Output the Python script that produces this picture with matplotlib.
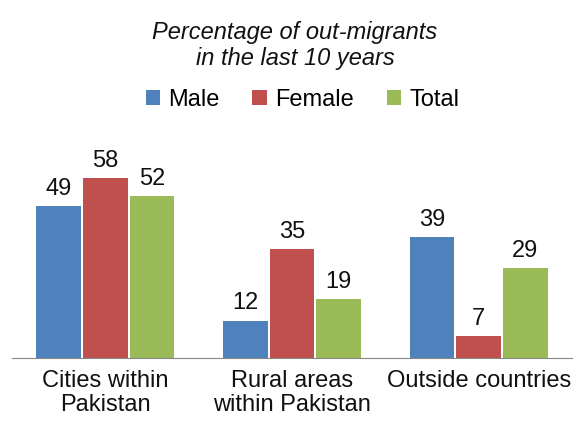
import matplotlib
matplotlib.use("Agg")
import matplotlib.pyplot as plt
import numpy as np

categories = ["Cities within\nPakistan", "Rural areas\nwithin Pakistan", "Outside countries"]
male = [49, 12, 39]
female = [58, 35, 7]
total = [52, 19, 29]

series = [("Male", male, "#4F81BD"), ("Female", female, "#C0504D"), ("Total", total, "#9BBB59")]

plt.rcParams['font.family'] = ['Liberation Sans', 'DejaVu Sans']

fig = plt.figure(figsize=(5.76, 4.26), dpi=100)
ax = fig.add_axes([0.021, 0.16, 0.972, 0.51])

x = np.arange(len(categories))
w = 0.25
for i, (name, vals, col) in enumerate(series):
    pos = x + (i - 1) * w
    bars = ax.bar(pos, vals, width=w * 0.96, color=col, label=name)
    for b, v in zip(bars, vals):
        ax.text(b.get_x() + b.get_width() / 2, v + 2, str(v), ha='center', va='bottom',
                fontsize=17, color='#111111')

ax.set_xlim(-0.5, 2.5)
ax.set_ylim(0, 70)
ax.set_yticks([])
ax.set_xticks(x)
ax.set_xticklabels(categories, fontsize=17, color='#111111', linespacing=1.1)
ax.tick_params(axis='x', length=0, pad=9)
for s in ['top', 'right', 'left']:
    ax.spines[s].set_visible(False)
ax.spines['bottom'].set_color('#888888')

fig.text(0.512, 0.893, "Percentage of out-migrants\nin the last 10 years", ha='center', va='center',
         fontsize=17, style='italic', color='#111111', linespacing=1.15)
fig.legend(loc='center', bbox_to_anchor=(0.525, 0.765), ncol=3, frameon=False, fontsize=17,
           handlelength=0.6, handleheight=0.6, handletextpad=0.35, columnspacing=1.4)

fig.savefig("out.png", dpi=100)
